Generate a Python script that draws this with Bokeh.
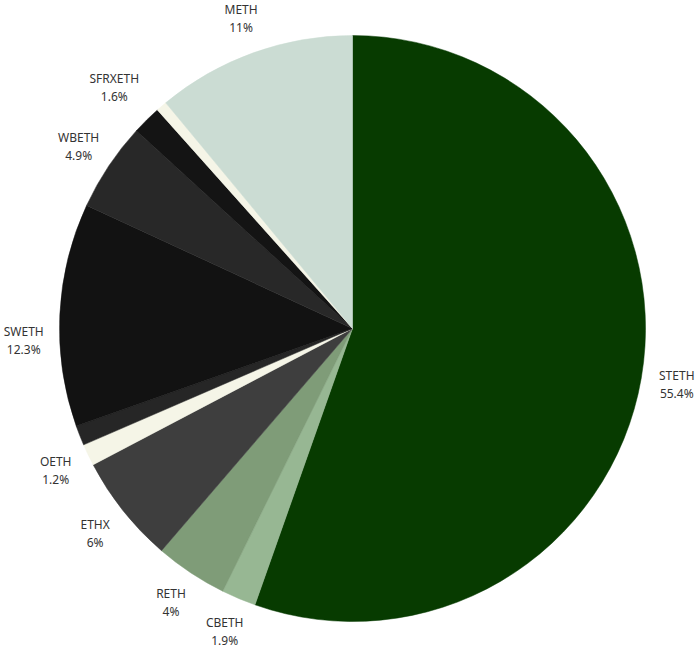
import math
from bokeh.plotting import figure
from bokeh.models import Range1d, ColumnDataSource
from bokeh.core.properties import value
from bokeh.embed import file_html
from bokeh.resources import INLINE

# data (clockwise from top)
names = ["STETH", "CBETH", "RETH", "ETHX", "OETH", "", "SWETH", "WBETH", "SFRXETH", "", "METH"]
shares = [55.4, 1.9, 4.0, 6.0, 1.2, 1.1, 12.3, 4.9, 1.6, 0.6, 11.0]
colors = ["#073b00", "#97b793", "#7f9c78", "#3e3e3e", "#f5f5e7", "#262626",
          "#121212", "#282828", "#141414", "#f5f5e7", "#cbdcd3"]

# label placement tweaks (degrees, counter-clockwise; extra radius in px)
label_angle_nudge = {"SWETH": 4.8}
label_radius_extra = {"SFRXETH": 10}

W, H = 700, 657
CX, CY = 352, 328  # pie centre in figure pixels (from top-left)
R = 293
LR = 329

p = figure(width=W, height=H, output_backend="svg", toolbar_location=None,
           x_range=Range1d(-CX, W - CX), y_range=Range1d(-(H - CY), CY),
           min_border=0, outline_line_color=None)
p.axis.visible = False
p.grid.visible = False
p.background_fill_color = "white"
p.border_fill_color = "white"

total = sum(shares)
starts, ends, mids = [], [], []
acc = 0.0
for s in shares:
    a0 = acc / total
    acc += s
    a1 = acc / total
    starts.append(math.pi / 2 - a0 * 2 * math.pi)
    ends.append(math.pi / 2 - a1 * 2 * math.pi)
    mids.append(math.pi / 2 - (a0 + a1) / 2 * 2 * math.pi)

src = ColumnDataSource(dict(start=starts, end=ends, color=colors))
p.wedge(x=0, y=0, radius=R, start_angle="start", end_angle="end",
        direction="clock", fill_color="color", line_color="color", line_width=0.5,
        source=src)

lx, ly_name, ly_pct, ltxt, lpct = [], [], [], [], []
for n, s, m in zip(names, shares, mids):
    if not n:
        continue
    m = m + math.radians(label_angle_nudge.get(n, 0.0))
    r = LR + label_radius_extra.get(n, 0)
    x = r * math.cos(m)
    y = r * math.sin(m)
    lx.append(x)
    ly_name.append(y + 9)
    ly_pct.append(y - 9)
    ltxt.append(n)
    lpct.append(f"{s:g}%")

p.text(x=lx, y=ly_name, text=ltxt, text_align="center", text_baseline="middle",
       text_font=value("Noto Sans"), text_font_size="12px", text_color="#333333")
p.text(x=lx, y=ly_pct, text=lpct, text_align="center", text_baseline="middle",
       text_font=value("Noto Sans"), text_font_size="12px", text_color="#333333")

open("out.html", "w").write(file_html(p, INLINE))
